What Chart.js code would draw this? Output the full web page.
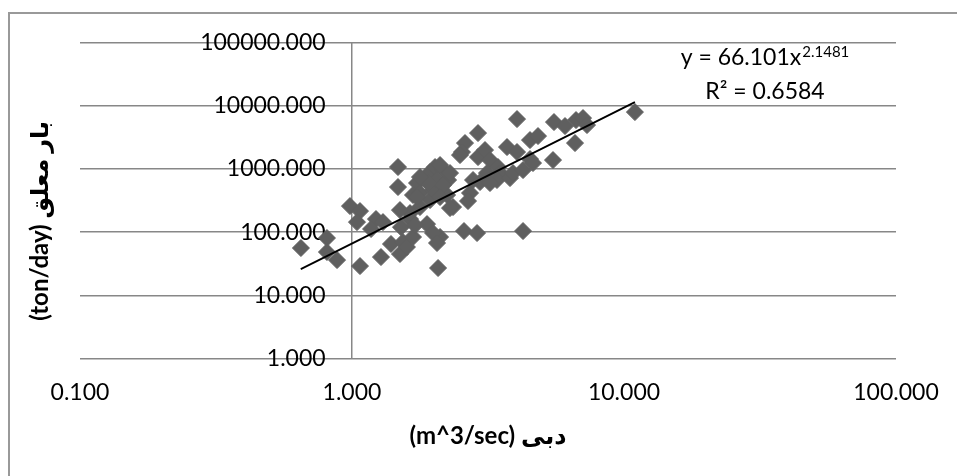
<!DOCTYPE html>
<html><head><meta charset="utf-8">
<script src="https://cdn.jsdelivr.net/npm/chart.js@4.4.1/dist/chart.umd.min.js"></script>
<style>
html,body{margin:0;padding:0;background:#fff;overflow:hidden;}
#wrap{position:relative;width:957px;height:476px;overflow:hidden;}
#frame{position:absolute;left:8px;top:12px;width:1200px;height:800px;border-left:2px solid #999;border-top:2px solid #999;}
canvas{position:absolute;left:0;top:0;}
</style></head><body>
<div id="wrap"><div id="frame"></div><canvas id="c" width="957" height="476"></canvas></div>
<script>
// Discharge (m^3/sec) and suspended load (ton/day)
const discharge = [0.649,0.809,0.809,0.881,1.070,0.983,1.070,1.043,1.225,1.175,1.300,1.278,1.391,1.476,1.476,1.514,1.539,1.501,1.592,1.634,1.676,1.734,1.676,1.778,1.778,1.634,1.501,1.887,1.936,1.936,1.986,2.020,2.161,2.054,2.255,2.236,2.352,2.107,1.986,2.054,2.072,1.705,2.107,2.293,2.161,2.293,2.603,2.537,2.906,2.906,3.083,3.216,2.716,2.670,2.581,2.882,3.135,2.786,3.441,3.500,3.412,2.956,3.810,3.908,3.715,4.043,4.043,4.254,4.254,4.513,4.513,4.629,4.829,5.529,6.069,6.662,7.069,7.311,6.606,5.483,10.97,2.495,1.910,1.734,3.216,1.778,2.107];
const load = [56.1,80.7,48.5,36.2,29.1,258,215,144,161,112,144,40.4,64.9,1068,516,120,69.8,45.1,58.2,161,83.7,597,386,249,415,200,223,134,321,890,463,1068,957,666,666,386,249,83.7,96.8,67.3,27.1,129,1148,858,555,240,2556,1843,3678,1536,1982,1377,415,310,104,96.8,858,666,1068,858,666,619,715,858,2210,6118,1843,957,104,2851,1428,1235,3298,5488,4745,5902,6346,4920,2556,1377,7890,1652,597,358,597,742,358];
// Power trend line end points
const trendX = [0.648, 10.97];
const trendY = [26.0, 11340];
const xTicks = [0.1, 1, 10, 100];
const yTicks = [1, 10, 100, 1000, 10000, 100000];
const eqText = 'y = 66.101x';
const eqExp = '2.1481';
const r2Text = 'R\u00B2 = 0.6584';
const xTitle = '(m^3/sec) دبی';
const yTitle = '(ton/day) بار معلق       ';

const FONT = "Lato, 'Open Sans', sans-serif";
const TFONT = "Lato, 'DejaVu Sans', sans-serif";
const GRID = '#878787';

const eqPlugin = {
  id: 'eq',
  afterDatasetsDraw(chart) {
    const {ctx, chartArea: a} = chart;
    ctx.save();
    ctx.fillStyle = '#000';
    ctx.textBaseline = 'alphabetic';
    ctx.textAlign = 'left';
    const cx = a.right - 131;
    ctx.font = '23px ' + FONT;
    const w1 = ctx.measureText(eqText).width;
    ctx.font = '15px ' + FONT;
    const w2 = ctx.measureText(eqExp).width;
    const start = cx - (w1 + 1 + w2) / 2;
    ctx.font = '23px ' + FONT;
    ctx.fillText(eqText, start, a.top + 22.7);
    ctx.font = '15px ' + FONT;
    ctx.fillText(eqExp, start + w1 + 1, a.top + 14.7);
    ctx.font = '23px ' + FONT;
    ctx.textAlign = 'center';
    ctx.fillText(r2Text, cx, a.top + 56.7);
    ctx.restore();
  }
};

const pts = discharge.map((x, i) => ({x: x, y: load[i]}));
const trend = trendX.map((x, i) => ({x: x, y: trendY[i]}));

new Chart(document.getElementById('c'), {
  type: 'scatter',
  data: {
    datasets: [
      {type: 'line', data: trend, borderColor: '#000', borderWidth: 1.8, pointRadius: 0, fill: false, tension: 0, order: 0},
      {data: pts, pointStyle: 'rectRot', pointRadius: 8.5, backgroundColor: '#5f5f5f', borderColor: '#5f5f5f', borderWidth: 1, order: 1}
    ]
  },
  options: {
    responsive: false,
    animation: false,
    devicePixelRatio: 1,
    layout: {padding: {left: 8, top: 42.3, right: 61, bottom: 25.6}},
    plugins: {legend: {display: false}, tooltip: {enabled: false}},
    scales: {
      x: {
        type: 'logarithmic', position: 'bottom', min: 0.1, max: 100,
        afterBuildTicks: s => { s.ticks = xTicks.map(v => ({value: v})); },
        ticks: {callback: v => Number(v).toFixed(3), font: {family: FONT, size: 23}, color: '#000', padding: 6, maxRotation: 0, autoSkip: false},
        grid: {color: c => (c.tick && c.tick.value === 1) ? GRID : 'rgba(0,0,0,0)', lineWidth: 1.5, drawTicks: true, tickLength: 14.5, tickColor: 'rgba(0,0,0,0)'},
        border: {display: false},
        title: {display: true, text: xTitle, font: {family: TFONT, size: 24, weight: 'bold'}, color: '#000', padding: {top: 8.8, bottom: 0}}
      },
      y: {
        type: 'logarithmic', position: 'left', min: 1, max: 100000,
        afterBuildTicks: s => { s.ticks = yTicks.map(v => ({value: v})); },
        ticks: {display: false},
        grid: {color: GRID, lineWidth: 1.5, drawTicks: false},
        border: {display: false},
        title: {display: true, text: yTitle, font: {family: TFONT, size: 24, weight: 'bold'}, color: '#000', padding: {top: 17.6, bottom: 25.6}}
      },
      yLab: {
        axis: 'y', type: 'logarithmic', position: {x: 0.8}, min: 1, max: 100000,
        afterBuildTicks: s => { s.ticks = yTicks.map(v => ({value: v})); },
        ticks: {callback: v => Number(v).toFixed(3), font: {family: FONT, size: 23}, color: '#000', padding: 0, autoSkip: false},
        grid: {display: false},
        border: {display: false}
      }
    }
  },
  plugins: [eqPlugin]
});
</script>
</body></html>
